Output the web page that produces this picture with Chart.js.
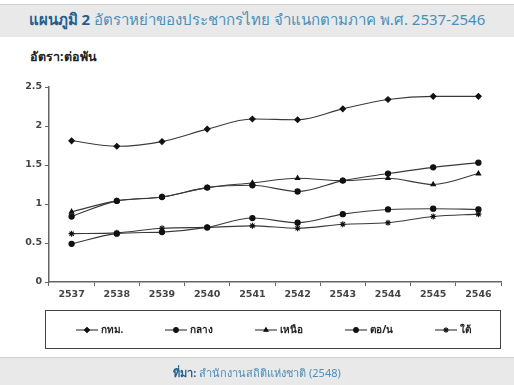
<!DOCTYPE html>
<html><head><meta charset="utf-8">
<script src="https://cdn.jsdelivr.net/npm/chart.js@4.4.0/dist/chart.umd.min.js"></script>
<style>
html,body{margin:0;padding:0;background:#fff;}
body{width:514px;height:385px;position:relative;overflow:hidden;font-family:"Noto Sans","DejaVu Sans",sans-serif;}
#head{position:absolute;left:0;top:4px;width:514px;height:32px;background:#e9e9e9;border-top:1px solid #d0d0d0;}
#title{position:absolute;left:0;top:8px;width:514px;text-align:center;font-size:15px;color:#4a8fba;white-space:nowrap;}
#title b{color:#1f5f8f;}
#ylab{position:absolute;left:30px;top:47px;font-size:12.5px;font-weight:bold;color:#222;}
#cv{position:absolute;left:0;top:0;}
#legend{position:absolute;left:45px;top:310px;width:456px;height:39px;border:1.5px solid #444;box-sizing:border-box;display:flex;justify-content:space-around;align-items:center;padding:0 8px;}
.li{display:flex;align-items:center;font-size:10px;color:#222;font-weight:bold;}
.li canvas{margin-right:2px;}
#foot{position:absolute;left:0;top:357px;width:514px;height:28px;background:#e9e9e9;border-top:1px solid #d0d0d0;}
#src{position:absolute;left:0;top:364px;width:514px;text-align:center;font-size:11px;color:#4a8fba;}
#src b{color:#1f5f8f;}
</style></head><body>
<div id="head"></div>
<div id="title"><b>แผนภูมิ 2</b> อัตราหย่าของประชากรไทย จำแนกตามภาค พ.ศ. 2537-2546</div>
<div id="ylab">อัตรา:ต่อพัน</div>
<canvas id="cv" width="514" height="385"></canvas>
<div id="legend"></div>
<div id="foot"></div>
<div id="src"><b>ที่มา:</b> สำนักงานสถิติแห่งชาติ (2548)</div>
<script>
const years = ['2537','2538','2539','2540','2541','2542','2543','2544','2545','2546'];
const seriesNames = ['กทม.','กลาง','เหนือ','ตอ/น','ใต้'];
const bangkok = [1.81,1.74,1.80,1.96,2.09,2.08,2.22,2.34,2.38,2.38];
const central = [0.84,1.04,1.09,1.21,1.24,1.16,1.30,1.39,1.47,1.53];
const north   = [0.90,1.04,1.09,1.21,1.27,1.33,1.30,1.33,1.25,1.39];
const northeast = [0.49,0.62,0.64,0.70,0.82,0.76,0.87,0.93,0.94,0.93];
const south   = [0.62,0.63,0.69,0.70,0.72,0.69,0.74,0.76,0.84,0.87];
const yTicks = [0,0.5,1,1.5,2,2.5];

const seriesData = [bangkok, central, north, northeast, south];
const styles = ['rectRot','circle','triangle','circle','star'];
const radii = [2.8,2.6,2.6,2.6,3];

const datasets = seriesData.map((d,i)=>({
  label: seriesNames[i], data: d,
  borderColor:'#3a3a3a', backgroundColor:'#111', borderWidth:1.1,
  pointStyle: styles[i], pointRadius: radii[i], pointBorderColor:'#111', pointBackgroundColor:'#111',
  tension:0.3, cubicInterpolationMode:'monotone', fill:false
}));

const tickFont = {family:'"DejaVu Sans", sans-serif', size:9.5, weight:'bold'};
new Chart(document.getElementById('cv'), {
  type:'line',
  data:{labels:years, datasets},
  options:{
    responsive:false, animation:false,
    layout:{padding:{top:87,right:13,bottom:0,left:0}},
    plugins:{legend:{display:false}, tooltip:{enabled:false}},
    scales:{
      x:{
        offset:true,
        grid:{display:true, offset:true, drawOnChartArea:false, drawTicks:true, tickLength:4, color:'#666'},
        border:{display:true,color:'#666',width:1.5},
        ticks:{color:'#444', font:tickFont, padding:3, maxRotation:0},
        afterFit:(s)=>{s.height=103;}
      },
      y:{
        min:0,max:2.5,
        afterBuildTicks:(s)=>{s.ticks = yTicks.map(v=>({value:v}));},
        grid:{display:true, drawOnChartArea:false, drawTicks:true, tickLength:4, color:'#666'},
        border:{display:true,color:'#666',width:1.5},
        ticks:{color:'#444', font:tickFont, padding:3, callback:(v)=>String(v)},
        afterFit:(s)=>{s.width=49;}
      }
    }
  }
});

// legend
const lg = document.getElementById('legend');
seriesNames.forEach((n,i)=>{
  const item=document.createElement('div'); item.className='li';
  const c=document.createElement('canvas'); c.width=24; c.height=10;
  const ctx=c.getContext('2d');
  ctx.strokeStyle='#333'; ctx.lineWidth=1.1;
  ctx.beginPath(); ctx.moveTo(1,5); ctx.lineTo(23,5); ctx.stroke();
  ctx.fillStyle='#111'; ctx.strokeStyle='#111';
  Chart.helpers.drawPoint(ctx,{pointStyle:styles[i],radius:radii[i]*0.9,rotation:0,borderWidth:1},12,5);
  ctx.fill();
  item.appendChild(c);
  const t=document.createElement('span'); t.textContent=n; item.appendChild(t);
  lg.appendChild(item);
});
</script>
</body></html>
